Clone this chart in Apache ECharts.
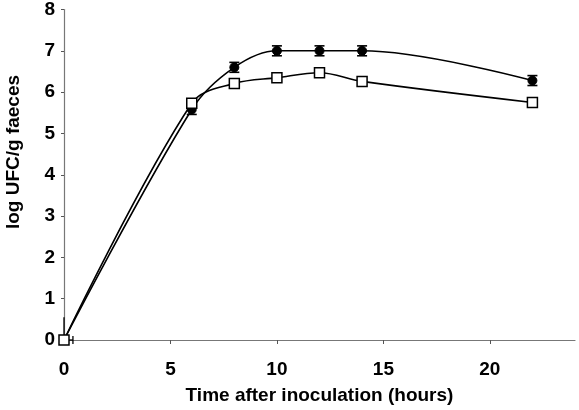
<!DOCTYPE html>
<html><head><meta charset="utf-8">
<script src="https://cdn.jsdelivr.net/npm/echarts@6/dist/echarts.min.js"></script>
<style>html,body{margin:0;padding:0;background:#fff}#c{width:579px;height:410px}</style>
</head><body><div id="c"></div>
<script>
var hours = [0, 6, 8, 10, 12, 14, 22];
var filledVals = [0, 5.58, 6.6, 7.0, 7.0, 7.0, 6.28];
var filledErr = [0, 0.12, 0.12, 0.12, 0.12, 0.12, 0.12];
var openVals = [0, 5.73, 6.21, 6.35, 6.47, 6.26, 5.75];
var xTicks = [0, 5, 10, 15, 20];
var yTicks = [0, 1, 2, 3, 4, 5, 6, 7, 8];

var chart = echarts.init(document.getElementById('c'));
var F = 'Liberation Sans, Arial, sans-serif';
function pairs(v){ return hours.map(function(h,i){return [h, v[i]];}); }
var errData = hours.map(function(h,i){return [h, filledVals[i]-filledErr[i], filledVals[i]+filledErr[i]];}).filter(function(d,i){return filledErr[i]>0;});

chart.setOption({
  animation:false,
  grid:{left:64, right:4, top:9, bottom:68},
  xAxis:{type:'value', min:0, max:24, interval:5,
    axisLine:{lineStyle:{color:'#777', width:1.2}},
    axisTick:{length:4, inside:false, lineStyle:{color:'#555'}, customValues:[5,10,15,20]},
    axisLabel:{color:'#000', fontFamily:F, fontWeight:'bold', fontSize:19, margin:20, customValues:xTicks},
    splitLine:{show:false},
    name:'Time after inoculation (hours)', nameLocation:'middle', nameGap:46,
    nameTextStyle:{color:'#000', fontFamily:F, fontWeight:'bold', fontSize:19}},
  yAxis:{type:'value', min:0, max:8, interval:1,
    axisLine:{show:true, lineStyle:{color:'#777', width:1.2}},
    axisTick:{show:true, length:3, lineStyle:{color:'#555'}},
    axisLabel:{color:'#000', fontFamily:F, fontWeight:'bold', fontSize:19, margin:9, customValues:yTicks},
    splitLine:{show:false}},
  graphic:[{type:'text', rotation:Math.PI/2, x:14, y:152, style:{text:'log UFC/g faeces', fill:'#000', font:'bold 19px '+F, align:'center', verticalAlign:'middle'}}],
  series:[
    {type:'custom', silent:true, z:3,
      renderItem:function(params, api){
        var x = api.value(0);
        var lo = api.coord([x, api.value(1)]);
        var hi = api.coord([x, api.value(2)]);
        var st = {stroke:'#000', lineWidth:1.6};
        return {type:'group', children:[
          {type:'line', shape:{x1:lo[0], y1:lo[1], x2:hi[0], y2:hi[1]}, style:st},
          {type:'line', shape:{x1:lo[0]-5, y1:lo[1], x2:lo[0]+5, y2:lo[1]}, style:st},
          {type:'line', shape:{x1:hi[0]-5, y1:hi[1], x2:hi[0]+5, y2:hi[1]}, style:st}
        ]};
      },
      encode:{x:0, y:[1,2]}, data:errData},
    {type:'custom', silent:true, z:3,
      renderItem:function(params, api){
        var o = api.coord([0,0]);
        var v = api.coord([0,0.55]);
        var h = api.coord([0.42,0]);
        var st = {stroke:'#000', lineWidth:1.3};
        return {type:'group', children:[
          {type:'line', shape:{x1:o[0], y1:o[1], x2:v[0], y2:v[1]}, style:st},
          {type:'line', shape:{x1:o[0], y1:o[1], x2:h[0], y2:h[1]}, style:st},
          {type:'line', shape:{x1:h[0], y1:h[1]-4, x2:h[0], y2:h[1]+4}, style:st}
        ]};
      },
      data:[[0,0]]},
    {name:'filled', type:'line', smooth:0.35, data:pairs(filledVals), symbol:'circle', symbolSize:9, z:4,
      lineStyle:{color:'#000', width:1.6}, itemStyle:{color:'#000', borderColor:'#000'}},
    {name:'open', type:'line', smooth:0.35, data:pairs(openVals), symbol:'rect', symbolSize:10, z:5,
      lineStyle:{color:'#000', width:1.6}, itemStyle:{color:'#fff', borderColor:'#000', borderWidth:1.5}}
  ]
});
</script></body></html>
